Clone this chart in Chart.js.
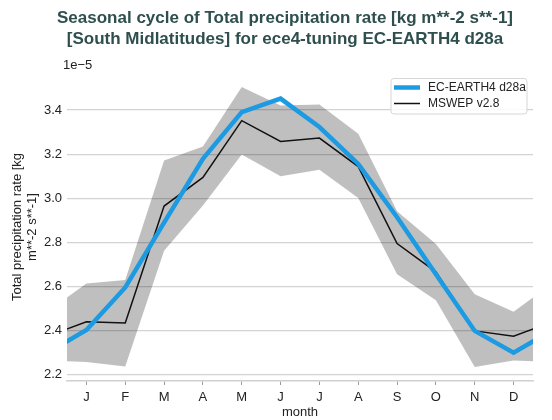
<!DOCTYPE html>
<html>
<head>
<meta charset="utf-8">
<script src="https://cdn.jsdelivr.net/npm/chart.js@4"></script>
<style>
html, body { margin: 0; padding: 0; background: #fff; }
#wrap { width: 552px; height: 420px; position: relative; }
</style>
</head>
<body>
<div id="wrap"><canvas id="chart"></canvas></div>
<script>
// Monthly values, in units of 1e-5 kg m**-2 s**-1
var months = ["J", "F", "M", "A", "M", "J", "J", "A", "S", "O", "N", "D"];
var ecEarth = [2.403, 2.596, 2.890, 3.179, 3.391, 3.452, 3.323, 3.156, 2.914, 2.656, 2.399, 2.300];
var mswep = [2.440, 2.435, 2.965, 3.095, 3.352, 3.258, 3.273, 3.144, 2.795, 2.667, 2.399, 2.375];
var mswepUpper = [2.614, 2.630, 3.171, 3.235, 3.505, 3.421, 3.425, 3.293, 2.941, 2.793, 2.565, 2.486];
var mswepLower = [2.258, 2.238, 2.762, 2.967, 3.199, 3.100, 3.129, 3.002, 2.656, 2.538, 2.235, 2.265];
var yTicks = [2.2, 2.4, 2.6, 2.8, 3.0, 3.2, 3.4];

var FONT = "'Liberation Sans', Arial, sans-serif";

// wrap the year round: Dec before Jan, Jan after Dec
function cyclic(values) {
  var pts = [{ x: 0, y: values[11] }];
  values.forEach(function (v, i) { pts.push({ x: i + 1, y: v }); });
  pts.push({ x: 13, y: values[0] });
  return pts;
}

// title, exponent and legend box
var extras = {
  id: "extras",
  afterDraw: function (chart) {
    var c = chart.ctx;
    c.save();
    c.fillStyle = "#2f4f4f";
    c.font = "bold 17px " + FONT;
    c.textAlign = "center";
    c.textBaseline = "alphabetic";
    c.fillText("Seasonal cycle of Total precipitation rate [kg m**-2 s**-1]", 285, 22.5);
    c.fillText("[South Midlatitudes] for ece4-tuning EC-EARTH4 d28a", 285, 43.5);

    c.fillStyle = "#222";
    c.font = "13px " + FONT;
    c.textAlign = "left";
    c.textBaseline = "middle";
    c.fillText("1e\u22125", 63, 65);

    // legend
    var bx = 391, by = 78.5, bw = 136, bh = 35.5, r = 3;
    c.beginPath();
    c.moveTo(bx + r, by);
    c.arcTo(bx + bw, by, bx + bw, by + bh, r);
    c.arcTo(bx + bw, by + bh, bx, by + bh, r);
    c.arcTo(bx, by + bh, bx, by, r);
    c.arcTo(bx, by, bx + bw, by, r);
    c.closePath();
    c.fillStyle = "rgba(255,255,255,0.85)";
    c.fill();
    c.strokeStyle = "#d6d6d6";
    c.lineWidth = 1;
    c.stroke();

    var items = [chart.data.datasets[0], chart.data.datasets[1]];
    items.forEach(function (ds, i) {
      var y = 87.5 + i * 16;
      c.beginPath();
      c.moveTo(394, y);
      c.lineTo(420, y);
      c.strokeStyle = ds.borderColor;
      c.lineWidth = ds.borderWidth;
      c.stroke();
      c.fillStyle = "#222";
      c.font = "12px " + FONT;
      c.fillText(ds.label, 428, y + 0.5);
    });
    c.restore();
  }
};

new Chart(document.getElementById("chart"), {
  type: "line",
  data: {
    datasets: [
      {
        label: "EC-EARTH4 d28a",
        data: cyclic(ecEarth),
        borderColor: "#1c9be2",
        borderWidth: 4.5,
        pointRadius: 0,
        fill: false,
        clip: 0,
        order: 0
      },
      {
        label: "MSWEP v2.8",
        data: cyclic(mswep),
        borderColor: "#111",
        borderWidth: 1.5,
        pointRadius: 0,
        fill: false,
        clip: 0,
        order: 1
      },
      {
        label: "upper",
        data: cyclic(mswepUpper),
        borderWidth: 0,
        borderColor: "rgba(0,0,0,0)",
        backgroundColor: "rgba(0,0,0,0.25)",
        pointRadius: 0,
        fill: "+1",
        clip: 0,
        order: 2
      },
      {
        label: "lower",
        data: cyclic(mswepLower),
        borderWidth: 0,
        borderColor: "rgba(0,0,0,0)",
        pointRadius: 0,
        fill: false,
        clip: 0,
        order: 3
      }
    ]
  },
  options: {
    responsive: true,
    maintainAspectRatio: false,
    animation: false,
    layout: { padding: { top: 73, right: 19, left: 0, bottom: 0 } },
    plugins: {
      legend: { display: false },
      tooltip: { enabled: false },
      title: { display: false }
    },
    scales: {
      x: {
        type: "linear",
        min: 0.5,
        max: 12.5,
        afterBuildTicks: function (scale) {
          scale.ticks = months.map(function (m, i) { return { value: i + 1 }; });
        },
        afterFit: function (scale) { scale.height = 39; },
        ticks: {
          autoSkip: false,
          maxRotation: 0,
          padding: 5,
          color: "#222",
          font: { family: FONT, size: 13 },
          callback: function (v) { return months[v - 1]; }
        },
        grid: {
          drawOnChartArea: false,
          drawTicks: true,
          tickLength: 4,
          color: "#999",
          lineWidth: 1
        },
        border: { display: true, color: "#d0d0d0", width: 1.5 },
        title: {
          display: true,
          text: "month",
          color: "#222",
          font: { family: FONT, size: 13 },
          padding: { top: 0, bottom: 0 }
        }
      },
      y: {
        min: 2.172,
        max: 3.568,
        afterBuildTicks: function (scale) {
          scale.ticks = yTicks.map(function (v) { return { value: v }; });
        },
        afterFit: function (scale) { scale.width = 67; },
        ticks: {
          padding: 5,
          color: "#222",
          font: { family: FONT, size: 13 },
          callback: function (v) { return v.toFixed(1); }
        },
        grid: { drawTicks: false, color: "#d3d3d3", lineWidth: 1.3 },
        border: { display: false },
        title: {
          display: true,
          text: ["Total precipitation rate [kg", "m**-2 s**-1]"],
          color: "#222",
          font: { family: FONT, size: 13, lineHeight: 1.15 },
          padding: { top: 10, bottom: 0 }
        }
      }
    }
  },
  plugins: [extras]
});
</script>
</body>
</html>
